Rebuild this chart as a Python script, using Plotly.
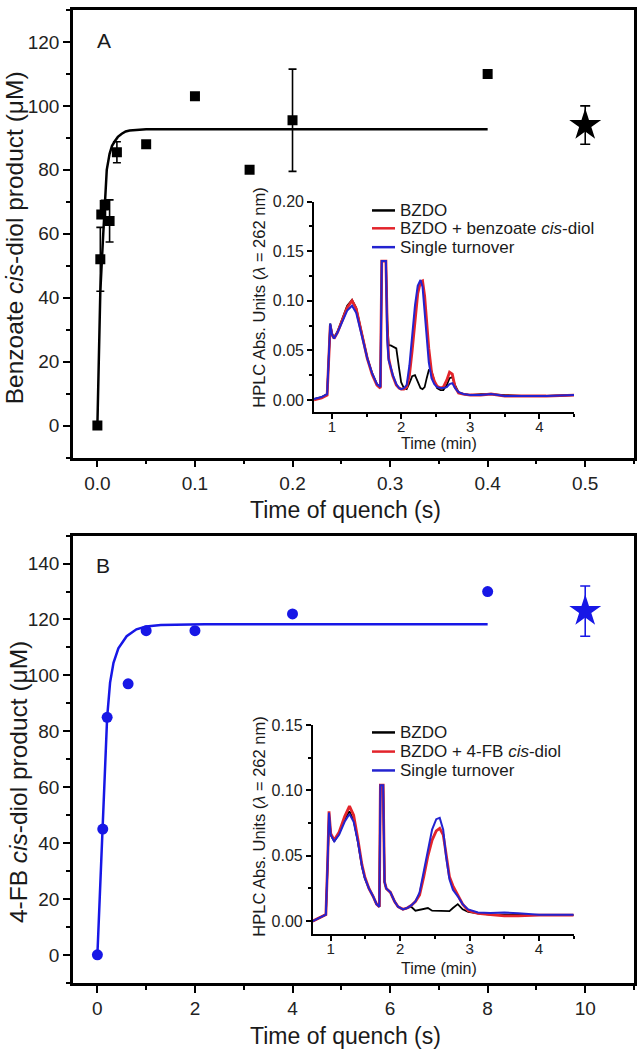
import plotly.graph_objects as go

W, H = 638, 1050
FONT = "Liberation Sans, Arial, sans-serif"

# ---------------- Panel A data ----------------
a_t = [0, 0.003, 0.004, 0.0075, 0.0125, 0.02, 0.05, 0.1, 0.156, 0.2, 0.4]
a_y = [0, 52, 66, 69, 64, 85.5, 88, 103, 80, 95.5, 110]
a_err = [0, 10, 0, 1.5, 6.6, 3.3, 0, 0, 0, 16, 0]
a_fit_t = [0, 0.003, 0.006, 0.0096, 0.0125, 0.015, 0.018, 0.021, 0.025, 0.029, 0.033, 0.05, 0.4]
a_fit_y = [0, 42, 60, 80, 85, 87.5, 89, 90.3, 91.3, 92.0, 92.3, 92.7, 92.7]
a_star_t = [0.5]
a_star_y = [94]
a_star_err = [6]

# Inset A chromatograms (time in min, absorbance)
ia_t = [0.74, 0.85, 0.93, 0.955, 0.975, 1.0, 1.03, 1.08, 1.15, 1.22, 1.29, 1.35, 1.42, 1.51, 1.58,
        1.65, 1.70, 1.72, 1.75, 1.78, 1.80, 1.82, 1.85, 1.88, 1.93, 1.97, 2.0, 2.04, 2.08, 2.12,
        2.16, 2.20, 2.24, 2.28, 2.31, 2.34, 2.37, 2.40, 2.44, 2.48, 2.52, 2.57, 2.61, 2.66, 2.70,
        2.74, 2.78, 2.83, 2.90, 3.0, 3.15, 3.3, 3.5, 3.8, 4.1, 4.5]
ia_black = [0.001, 0.003, 0.006, 0.040, 0.077, 0.067, 0.063, 0.069, 0.082, 0.095, 0.101, 0.093, 0.071, 0.043, 0.027,
            0.016, 0.013, 0.140, 0.140, 0.140, 0.080, 0.055, 0.055, 0.054, 0.052, 0.032, 0.018, 0.012, 0.011, 0.017,
            0.024, 0.025, 0.019, 0.012, 0.011, 0.013, 0.022, 0.030, 0.029, 0.019, 0.012, 0.010, 0.010, 0.015, 0.022,
            0.023, 0.015, 0.008, 0.006, 0.005, 0.006, 0.006, 0.005, 0.004, 0.004, 0.005]
ia_red = [0.000, 0.002, 0.005, 0.038, 0.075, 0.066, 0.062, 0.068, 0.081, 0.093, 0.100, 0.092, 0.070, 0.042, 0.026,
          0.015, 0.012, 0.140, 0.140, 0.140, 0.070, 0.042, 0.032, 0.024, 0.015, 0.012, 0.011, 0.011, 0.013, 0.025,
          0.050, 0.082, 0.107, 0.119, 0.120, 0.105, 0.078, 0.052, 0.028, 0.019, 0.014, 0.012, 0.013, 0.020, 0.028,
          0.026, 0.013, 0.007, 0.006, 0.005, 0.005, 0.006, 0.004, 0.004, 0.004, 0.005]
ia_blue = [0.001, 0.003, 0.006, 0.040, 0.077, 0.066, 0.062, 0.068, 0.080, 0.090, 0.095, 0.088, 0.068, 0.042, 0.027,
           0.016, 0.013, 0.140, 0.140, 0.140, 0.060, 0.040, 0.033, 0.025, 0.016, 0.012, 0.011, 0.012, 0.015, 0.035,
           0.065, 0.095, 0.115, 0.121, 0.114, 0.090, 0.058, 0.038, 0.022, 0.016, 0.013, 0.012, 0.012, 0.013, 0.016,
           0.017, 0.012, 0.008, 0.006, 0.005, 0.005, 0.006, 0.004, 0.004, 0.004, 0.005]

# ---------------- Panel B data ----------------
b_t = [0, 0.11, 0.2, 0.63, 1.0, 2.0, 4.0, 8.0]
b_y = [0, 45, 85, 97, 116, 116, 122, 130]
b_fit_t = [0, 0.11, 0.2, 0.26, 0.33, 0.43, 0.6, 0.8, 1.0, 1.3, 1.7, 2.2, 8.0]
b_fit_y = [0, 45, 85, 97.4, 104.5, 109.7, 114, 116.5, 117.5, 118.0, 118.2, 118.3, 118.3]
b_star_t = [10]
b_star_y = [123]
b_star_err = [9]

ib_t = [0.74, 0.85, 0.93, 0.955, 0.975, 1.0, 1.05, 1.12, 1.2, 1.27, 1.33, 1.39, 1.45, 1.49, 1.55,
        1.61, 1.66, 1.70, 1.715, 1.735, 1.755, 1.775, 1.80, 1.86, 1.92, 1.97, 2.04, 2.10, 2.16, 2.22,
        2.28, 2.34, 2.40, 2.46, 2.52, 2.57, 2.62, 2.66, 2.71, 2.76, 2.83, 2.90, 2.98, 3.12, 3.3,
        3.5, 3.7, 4.0, 4.5]
ib_black = [0.000, 0.003, 0.005, 0.043, 0.081, 0.066, 0.061, 0.067, 0.078, 0.084, 0.077, 0.061, 0.042, 0.033, 0.025,
            0.019, 0.013, 0.011, 0.104, 0.104, 0.104, 0.030, 0.025, 0.022, 0.015, 0.011, 0.009, 0.010, 0.011, 0.008,
            0.0085, 0.0095, 0.010, 0.008, 0.008, 0.008, 0.0078, 0.0076, 0.0076, 0.010, 0.013, 0.009, 0.007, 0.006, 0.005,
            0.005, 0.0048, 0.0046, 0.0046]
ib_red = [0.000, 0.003, 0.005, 0.045, 0.084, 0.067, 0.062, 0.068, 0.080, 0.088, 0.081, 0.063, 0.043, 0.034, 0.025,
          0.019, 0.013, 0.011, 0.104, 0.104, 0.104, 0.030, 0.025, 0.022, 0.015, 0.011, 0.009, 0.010, 0.012, 0.015,
          0.020, 0.034, 0.050, 0.062, 0.069, 0.071, 0.066, 0.052, 0.034, 0.027, 0.020, 0.013, 0.008, 0.006, 0.005,
          0.004, 0.004, 0.0046, 0.0046]
ib_blue = [0.000, 0.003, 0.005, 0.045, 0.083, 0.066, 0.061, 0.066, 0.076, 0.082, 0.076, 0.061, 0.042, 0.033, 0.025,
           0.019, 0.013, 0.011, 0.104, 0.104, 0.104, 0.030, 0.025, 0.022, 0.015, 0.011, 0.009, 0.010, 0.012, 0.015,
           0.022, 0.038, 0.055, 0.070, 0.078, 0.079, 0.070, 0.050, 0.032, 0.024, 0.019, 0.013, 0.009, 0.0066, 0.0062,
           0.0066, 0.006, 0.0048, 0.0048]

# tick labels
a_xticks = [0, 0.1, 0.2, 0.3, 0.4, 0.5]
a_yticks = [0, 20, 40, 60, 80, 100, 120]
b_xticks = [0, 2, 4, 6, 8, 10]
b_yticks = [0, 20, 40, 60, 80, 100, 120, 140]
ia_yticks = [0, 0.05, 0.10, 0.15, 0.20]
ib_yticks = [0, 0.05, 0.10, 0.15]
inset_xticks = [1, 2, 3, 4]

BLACK = "#000000"
RED = "#e3242b"
IBLUE = "#2323d0"
BLUE = "#1717e6"


def px(x):
    return x / W


def py(y):
    return 1 - y / H


fig = go.Figure()

# Panel A main
fig.add_trace(go.Scatter(x=a_fit_t, y=a_fit_y, mode="lines", line=dict(color=BLACK, width=2.5),
                         xaxis="x", yaxis="y", showlegend=False))
fig.add_trace(go.Scatter(x=a_t, y=a_y, mode="markers", marker=dict(symbol="square", size=10, color=BLACK),
                         error_y=dict(type="data", array=a_err, color=BLACK, thickness=1.6, width=4),
                         xaxis="x", yaxis="y", showlegend=False))
fig.add_trace(go.Scatter(x=a_star_t, y=a_star_y, mode="markers", marker=dict(symbol="star", size=24, color=BLACK),
                         error_y=dict(type="data", array=a_star_err, color=BLACK, thickness=1.6, width=5),
                         xaxis="x", yaxis="y", showlegend=False))

# Inset A
for vals, col, wd in [(ia_black, BLACK, 1.8), (ia_red, RED, 2.8), (ia_blue, IBLUE, 2.0)]:
    fig.add_trace(go.Scatter(x=ia_t, y=vals, mode="lines", line=dict(color=col, width=wd),
                             xaxis="x2", yaxis="y2", showlegend=False))

# Panel B main
fig.add_trace(go.Scatter(x=b_fit_t, y=b_fit_y, mode="lines", line=dict(color=BLUE, width=2.5),
                         xaxis="x3", yaxis="y3", showlegend=False))
fig.add_trace(go.Scatter(x=b_t, y=b_y, mode="markers", marker=dict(symbol="circle", size=11, color=BLUE),
                         xaxis="x3", yaxis="y3", showlegend=False))
fig.add_trace(go.Scatter(x=b_star_t, y=b_star_y, mode="markers", marker=dict(symbol="star", size=24, color=BLUE),
                         error_y=dict(type="data", array=b_star_err, color=BLUE, thickness=1.6, width=5),
                         xaxis="x3", yaxis="y3", showlegend=False))

# Inset B
for vals, col, wd in [(ib_black, BLACK, 1.8), (ib_red, RED, 2.8), (ib_blue, IBLUE, 2.0)]:
    fig.add_trace(go.Scatter(x=ib_t, y=vals, mode="lines", line=dict(color=col, width=wd),
                             xaxis="x4", yaxis="y4", showlegend=False))


def main_axis(domain, rng, tickvals, fmt, minor_dtick, anchor):
    return dict(domain=domain, range=rng, anchor=anchor, tickvals=tickvals, tickformat=fmt,
                ticks="outside", ticklen=7, tickwidth=2, tickcolor=BLACK,
                showline=True, linewidth=2.5, linecolor=BLACK, mirror=True,
                showgrid=False, zeroline=False,
                tickfont=dict(family=FONT, size=19, color="#222"),
                minor=dict(ticks="outside", ticklen=4, tickwidth=2, tickcolor=BLACK,
                           dtick=minor_dtick, tick0=0, showgrid=False))


def inset_axis(domain, rng, tickvals, fmt, minor_dtick, anchor, standoff=0, size=16):
    return dict(domain=domain, range=rng, anchor=anchor, tickvals=tickvals, tickformat=fmt,
                ticks="outside", ticklen=5, tickwidth=1.5, tickcolor=BLACK,
                showline=True, linewidth=1.6, linecolor=BLACK, mirror=False,
                showgrid=False, zeroline=False, ticklabelstandoff=standoff,
                tickfont=dict(family=FONT, size=size, color="#222"),
                minor=dict(ticks="outside", ticklen=3, tickwidth=1.5, tickcolor=BLACK,
                           dtick=minor_dtick, tick0=0, showgrid=False))


main_x = [px(73), px(634)]
fig.update_layout(
    width=W, height=H, margin=dict(l=0, r=0, t=0, b=0),
    paper_bgcolor="white", plot_bgcolor="rgba(0,0,0,0)",
    xaxis=main_axis(main_x, [-0.025, 0.55], a_xticks, ".1f", 0.05, "y"),
    yaxis=main_axis([py(453), py(2)], [-10, 130], a_yticks, "d", 10, "x"),
    xaxis2=inset_axis([px(314), px(574)], [0.74, 4.5], inset_xticks, "d", 0.5, "y2", -5, 15),
    yaxis2=inset_axis([py(407), py(195)], [-0.012, 0.20], ia_yticks, ".2f", 0.025, "x2"),
    xaxis3=main_axis(main_x, [-0.5, 11], b_xticks, "d", 1, "y3"),
    yaxis3=main_axis([py(982.3), py(531.7)], [-10, 150], b_yticks, "d", 10, "x3"),
    xaxis4=inset_axis([px(312.7), px(573.7)], [0.74, 4.5], inset_xticks, "d", 0.5, "y4", -5, 15),
    yaxis4=inset_axis([py(933.3), py(722.6)], [-0.010, 0.15], ib_yticks, ".2f", 0.025, "x4"),
)

ann = []


def text(x, y, s, size, angle=0, xanchor="center"):
    ann.append(dict(x=px(x), y=py(y), xref="paper", yref="paper", text=s, showarrow=False,
                    textangle=angle, xanchor=xanchor, yanchor="middle",
                    font=dict(family=FONT, size=size, color="#1a1a1a")))


# panel labels
text(104, 33, "A", 21)
text(103, 562, "B", 21)
# main titles
text(14, 232, "Benzoate <i>cis</i>-diol product (μM)", 24.5, -90)
text(18, 780, "4-FB <i>cis</i>-diol product (μM)", 24.5, -90)
text(345, 506, "Time of quench (s)", 23)
text(345, 1036, "Time of quench (s)", 23)
# inset titles
text(259, 292, "HPLC Abs. Units (<i>λ</i> = 262 nm)", 16.5, -90)
text(259, 825, "HPLC Abs. Units (<i>λ</i> = 262 nm)", 16.5, -90)
text(439, 439, "Time (min)", 16)
text(439, 968, "Time (min)", 16)

# inset legends
legA = ["BZDO", "BZDO + benzoate <i>cis</i>-diol", "Single turnover"]
legB = ["BZDO", "BZDO + 4-FB <i>cis</i>-diol", "Single turnover"]
cols = [BLACK, RED, IBLUE]
shapes = []
for rows, labels in [([204, 222, 241], legA), ([730, 749.3, 768.3], legB)]:
    for yy, lab, c in zip(rows, labels, cols):
        shapes.append(dict(type="line", xref="paper", yref="paper", x0=px(372), x1=px(395),
                           y0=py(yy), y1=py(yy), line=dict(color=c, width=2.5)))
        text(398, yy, lab, 17, 0, "left")

fig.update_layout(annotations=ann, shapes=shapes)
fig.write_html("out.html", config={"displayModeBar": False},
               post_script="document.body.style.margin='0';document.body.style.overflow='hidden';")
